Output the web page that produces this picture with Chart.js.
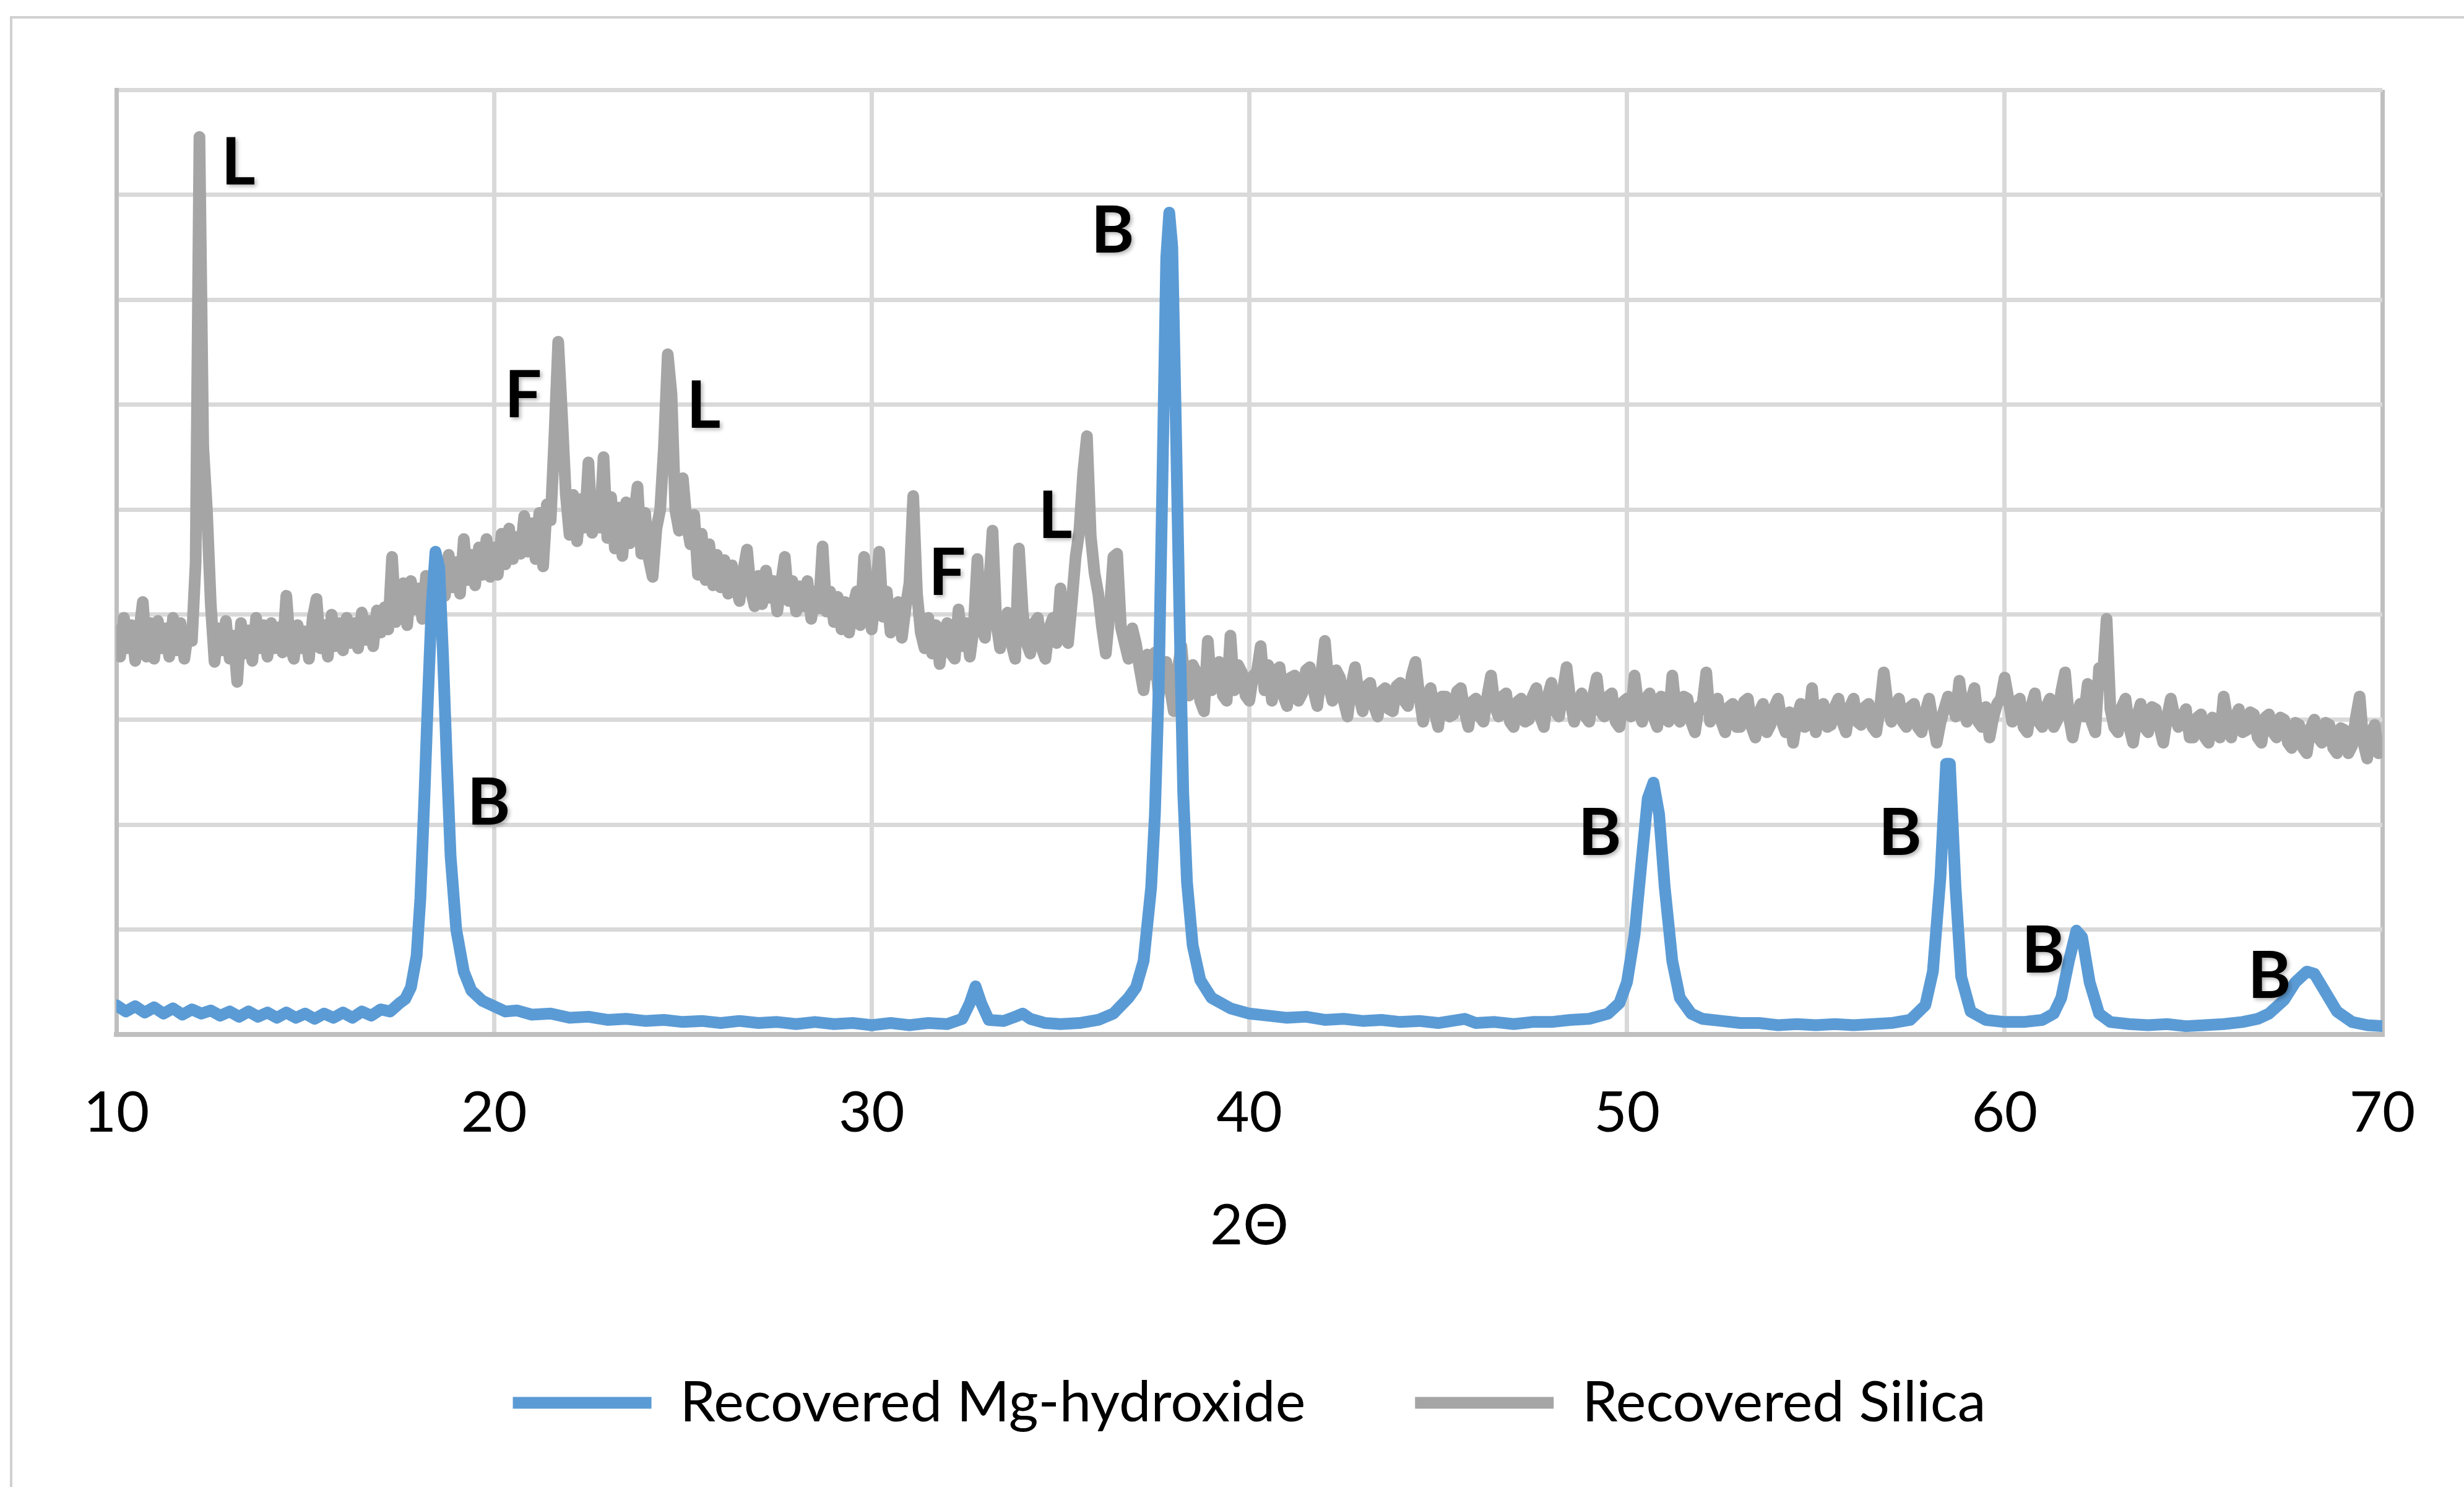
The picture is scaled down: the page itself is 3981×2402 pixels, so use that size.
<!DOCTYPE html>
<html>
<head>
<meta charset="utf-8">
<title>XRD</title>
<script src="https://cdn.jsdelivr.net/npm/chart.js@4.4.1/dist/chart.umd.min.js"></script>
<style>
  html, body { margin: 0; padding: 0; background: #fff; }
  canvas { display: block; }
</style>
</head>
<body>
<canvas id="grafico" width="3981" height="2402"></canvas>
<script>
const seriesNames = ['Recovered Mg-hydroxide', 'Recovered Silica'];

const mgHydroxide = [
  [10,0.28],[10.25,0.22],[10.5,0.27],[10.75,0.21],[11,0.26],[11.25,0.2],[11.5,0.25],[11.75,0.19],[12,0.24],[12.25,0.2],
  [12.5,0.23],[12.75,0.18],[13,0.22],[13.25,0.17],[13.5,0.22],[13.75,0.17],[14,0.21],[14.25,0.16],[14.5,0.21],[14.75,0.16],
  [15,0.2],[15.25,0.15],[15.5,0.2],[15.75,0.16],[16,0.21],[16.25,0.16],[16.5,0.22],[16.75,0.18],[17,0.24],[17.25,0.22],
  [17.5,0.3],[17.65,0.34],[17.8,0.45],[17.95,0.75],[18.05,1.3],[18.15,2.2],[18.25,3.2],[18.35,4.1],[18.45,4.6],[18.55,4.45],
  [18.65,3.6],[18.75,2.6],[18.85,1.7],[19,1.0],[19.2,0.6],[19.4,0.42],[19.7,0.32],[20,0.27],[20.3,0.22],[20.6,0.23],
  [21,0.19],[21.5,0.2],[22,0.16],[22.5,0.17],[23,0.14],[23.5,0.15],[24,0.13],[24.5,0.14],[25,0.12],[25.5,0.13],
  [26,0.11],[26.5,0.13],[27,0.11],[27.5,0.12],[28,0.1],[28.5,0.12],[29,0.1],[29.5,0.11],[30,0.09],[30.5,0.11],
  [31,0.09],[31.5,0.11],[32,0.1],[32.4,0.15],[32.6,0.3],[32.75,0.46],[32.9,0.3],[33.1,0.14],[33.5,0.13],[33.8,0.17],
  [34,0.2],[34.2,0.15],[34.6,0.11],[35,0.1],[35.5,0.11],[36,0.14],[36.4,0.2],[36.8,0.35],[37,0.45],[37.2,0.7],
  [37.4,1.4],[37.5,2.1],[37.6,3.3],[37.7,5.3],[37.8,7.4],[37.88,7.83],[37.96,7.5],[38.05,5.9],[38.15,4.0],[38.25,2.3],
  [38.35,1.45],[38.5,0.85],[38.7,0.52],[39,0.35],[39.5,0.25],[40,0.2],[40.5,0.18],[41,0.16],[41.5,0.17],[42,0.14],
  [42.5,0.15],[43,0.13],[43.5,0.14],[44,0.12],[44.5,0.13],[45,0.11],[45.7,0.15],[46,0.11],[46.5,0.12],[47,0.1],
  [47.5,0.12],[48,0.12],[48.5,0.14],[49,0.15],[49.5,0.2],[49.8,0.3],[50,0.5],[50.2,0.95],[50.4,1.7],[50.55,2.25],
  [50.7,2.4],[50.85,2.1],[51,1.4],[51.2,0.7],[51.4,0.35],[51.7,0.2],[52,0.15],[52.5,0.13],[53,0.11],[53.5,0.11],
  [54,0.09],[54.5,0.1],[55,0.09],[55.5,0.1],[56,0.09],[56.5,0.1],[57,0.11],[57.5,0.14],[57.9,0.28],[58.1,0.6],
  [58.3,1.5],[58.45,2.58],[58.55,2.58],[58.7,1.4],[58.85,0.55],[59.1,0.22],[59.5,0.14],[60,0.12],[60.5,0.12],[61,0.14],
  [61.3,0.2],[61.5,0.35],[61.7,0.7],[61.9,0.99],[62.05,0.93],[62.25,0.5],[62.5,0.2],[62.8,0.12],[63.3,0.1],[63.8,0.09],
  [64.3,0.1],[64.8,0.08],[65.3,0.09],[65.8,0.1],[66.3,0.12],[66.7,0.15],[67,0.2],[67.4,0.33],[67.7,0.5],[68,0.6],
  [68.2,0.58],[68.5,0.4],[68.8,0.22],[69.2,0.12],[69.6,0.09],[70,0.08]
];

const silicaX = [
  10,10.1,10.2,10.3,10.4,10.5,10.6,10.7,10.8,10.9,
  11,11.1,11.2,11.3,11.4,11.5,11.6,11.7,11.8,11.9,
  12,12.1,12.2,12.3,12.4,12.5,12.6,12.7,12.8,12.9,
  13,13.1,13.2,13.3,13.4,13.5,13.6,13.7,13.8,13.9,
  14,14.1,14.2,14.3,14.4,14.5,14.6,14.7,14.8,14.9,
  15,15.1,15.2,15.3,15.4,15.5,15.6,15.7,15.8,15.9,
  16,16.1,16.2,16.3,16.4,16.5,16.6,16.7,16.8,16.9,
  17,17.1,17.2,17.3,17.4,17.5,17.6,17.7,17.8,17.9,
  18,18.1,18.2,18.3,18.4,18.5,18.6,18.7,18.8,18.9,
  19,19.1,19.2,19.3,19.4,19.5,19.6,19.7,19.8,19.9,
  20,20.1,20.2,20.3,20.4,20.5,20.6,20.7,20.8,20.9,
  21,21.1,21.2,21.3,21.4,21.5,21.6,21.7,21.8,21.9,
  22,22.1,22.2,22.3,22.4,22.5,22.6,22.7,22.8,22.9,
  23,23.1,23.2,23.3,23.4,23.5,23.6,23.7,23.8,23.9,
  24,24.1,24.2,24.3,24.4,24.5,24.6,24.7,24.8,24.9,
  25,25.1,25.2,25.3,25.4,25.5,25.6,25.7,25.8,25.9,
  26,26.1,26.2,26.3,26.4,26.5,26.6,26.7,26.8,26.9,
  27,27.1,27.2,27.3,27.4,27.5,27.6,27.7,27.8,27.9,
  28,28.1,28.2,28.3,28.4,28.5,28.6,28.7,28.8,28.9,
  29,29.1,29.2,29.3,29.4,29.5,29.6,29.7,29.8,29.9,
  30,30.1,30.2,30.3,30.4,30.5,30.6,30.7,30.8,30.9,
  31,31.1,31.2,31.3,31.4,31.5,31.6,31.7,31.8,31.9,
  32,32.1,32.2,32.3,32.4,32.5,32.6,32.7,32.8,32.9,
  33,33.1,33.2,33.3,33.4,33.5,33.6,33.7,33.8,33.9,
  34,34.1,34.2,34.3,34.4,34.5,34.6,34.7,34.8,34.9,
  35,35.1,35.2,35.3,35.4,35.5,35.6,35.7,35.8,35.9,
  36,36.1,36.2,36.3,36.4,36.5,36.6,36.7,36.8,36.9,
  37,37.1,37.2,37.3,37.4,37.5,37.6,37.7,37.8,37.9,
  38,38.1,38.2,38.3,38.4,38.5,38.6,38.7,38.8,38.9,
  39,39.1,39.2,39.3,39.4,39.5,39.6,39.7,39.8,39.9,
  40,40.1,40.2,40.3,40.4,40.5,40.6,40.7,40.8,40.9,
  41,41.1,41.2,41.3,41.4,41.5,41.6,41.7,41.8,41.9,
  42,42.1,42.2,42.3,42.4,42.5,42.6,42.7,42.8,42.9,
  43,43.1,43.2,43.3,43.4,43.5,43.6,43.7,43.8,43.9,
  44,44.1,44.2,44.3,44.4,44.5,44.6,44.7,44.8,44.9,
  45,45.1,45.2,45.3,45.4,45.5,45.6,45.7,45.8,45.9,
  46,46.1,46.2,46.3,46.4,46.5,46.6,46.7,46.8,46.9,
  47,47.1,47.2,47.3,47.4,47.5,47.6,47.7,47.8,47.9,
  48,48.1,48.2,48.3,48.4,48.5,48.6,48.7,48.8,48.9,
  49,49.1,49.2,49.3,49.4,49.5,49.6,49.7,49.8,49.9,
  50,50.1,50.2,50.3,50.4,50.5,50.6,50.7,50.8,50.9,
  51,51.1,51.2,51.3,51.4,51.5,51.6,51.7,51.8,51.9,
  52,52.1,52.2,52.3,52.4,52.5,52.6,52.7,52.8,52.9,
  53,53.1,53.2,53.3,53.4,53.5,53.6,53.7,53.8,53.9,
  54,54.1,54.2,54.3,54.4,54.5,54.6,54.7,54.8,54.9,
  55,55.1,55.2,55.3,55.4,55.5,55.6,55.7,55.8,55.9,
  56,56.1,56.2,56.3,56.4,56.5,56.6,56.7,56.8,56.9,
  57,57.1,57.2,57.3,57.4,57.5,57.6,57.7,57.8,57.9,
  58,58.1,58.2,58.3,58.4,58.5,58.6,58.7,58.8,58.9,
  59,59.1,59.2,59.3,59.4,59.5,59.6,59.7,59.8,59.9,
  60,60.1,60.2,60.3,60.4,60.5,60.6,60.7,60.8,60.9,
  61,61.1,61.2,61.3,61.4,61.5,61.6,61.7,61.8,61.9,
  62,62.1,62.2,62.3,62.4,62.5,62.6,62.7,62.8,62.9,
  63,63.1,63.2,63.3,63.4,63.5,63.6,63.7,63.8,63.9,
  64,64.1,64.2,64.3,64.4,64.5,64.6,64.7,64.8,64.9,
  65,65.1,65.2,65.3,65.4,65.5,65.6,65.7,65.8,65.9,
  66,66.1,66.2,66.3,66.4,66.5,66.6,66.7,66.8,66.9,
  67,67.1,67.2,67.3,67.4,67.5,67.6,67.7,67.8,67.9,
  68,68.1,68.2,68.3,68.4,68.5,68.6,68.7,68.8,68.9,
  69,69.1,69.2,69.3,69.4,69.5,69.6,69.7,69.8,69.9,
  70
];

const silicaY = [
  3.85,3.6,3.97,3.68,3.9,3.56,3.82,4.12,3.6,3.92,
  3.58,3.94,3.68,3.87,3.6,3.97,3.66,3.92,3.58,3.84,
  3.75,4.5,8.55,5.6,4.98,4.1,3.55,3.87,3.66,3.94,
  3.58,3.8,3.36,3.92,3.63,3.85,3.56,3.97,3.68,3.9,
  3.6,3.92,3.68,3.88,3.64,4.18,3.7,3.58,3.9,3.68,
  3.84,3.58,3.97,4.15,3.68,3.9,3.6,4.0,3.7,3.92,
  3.66,3.97,3.73,3.92,3.68,4.02,3.76,3.94,3.7,4.04,
  3.83,4.07,3.86,4.55,3.93,4.12,4.3,3.9,4.32,4.05,
  4.25,3.96,4.37,4.08,4.32,4.03,4.47,4.18,4.57,4.26,
  4.5,4.2,4.72,4.33,4.57,4.28,4.64,4.38,4.72,4.36,
  4.64,4.38,4.77,4.48,4.82,4.53,4.74,4.58,4.94,4.6,
  4.87,4.53,4.97,4.46,5.05,4.9,5.7,6.6,5.9,5.15,
  4.76,5.14,4.7,5.1,4.83,5.45,4.78,5.02,4.83,5.5,
  4.73,5.12,4.63,5.02,4.56,5.07,4.68,4.92,5.22,4.58,
  4.97,4.53,4.36,4.82,5.0,5.6,6.48,6.1,5.0,4.8,
  5.3,4.88,4.67,4.95,4.38,4.77,4.33,4.67,4.28,4.57,
  4.26,4.52,4.2,4.47,4.28,4.13,4.42,4.62,4.23,4.08,
  4.37,4.1,4.42,4.16,4.32,4.03,4.3,4.55,4.13,4.32,
  4.03,4.27,4.08,4.32,3.96,4.22,4.06,4.65,4.03,4.22,
  3.93,4.17,3.86,4.12,3.83,4.07,4.22,3.9,4.55,4.23,
  3.86,4.17,4.6,3.98,4.22,3.83,3.94,4.12,3.78,4.07,
  4.3,5.13,4.2,3.83,3.68,3.97,3.63,3.9,3.53,3.82,
  3.92,3.63,3.58,4.05,3.7,3.92,3.6,3.87,4.53,3.88,
  3.78,4.22,4.8,3.93,3.68,3.9,4.02,3.73,3.58,4.63,
  4.02,3.73,3.63,3.92,3.97,3.68,3.58,3.87,3.97,3.73,
  4.25,3.88,3.73,4.12,4.55,4.8,5.35,5.7,4.75,4.4,
  4.2,3.88,3.63,4.02,4.55,4.58,3.88,3.73,3.58,3.87,
  3.72,3.48,3.28,3.62,3.43,3.64,3.23,3.52,3.55,3.3,
  3.08,3.47,3.7,3.33,3.23,3.52,3.45,3.18,3.08,3.75,
  3.28,3.52,3.55,3.23,3.18,3.8,3.28,3.52,3.45,3.23,
  3.18,3.42,3.45,3.7,3.28,3.52,3.18,3.47,3.5,3.23,
  3.13,3.4,3.42,3.18,3.25,3.47,3.5,3.28,3.13,3.42,
  3.75,3.33,3.18,3.47,3.4,3.18,3.03,3.32,3.5,3.23,
  3.08,3.32,3.35,3.13,3.03,3.27,3.3,3.1,3.08,3.32,
  3.35,3.18,3.13,3.42,3.55,3.23,2.98,3.22,3.3,3.08,
  2.93,3.22,3.22,3.03,3.05,3.27,3.3,3.08,2.93,3.17,
  3.2,3.03,2.98,3.22,3.42,3.13,3.03,3.22,3.25,2.98,
  2.93,3.17,3.2,2.98,3.0,3.22,3.3,3.03,2.93,3.22,
  3.35,3.08,3.03,3.27,3.5,3.18,2.98,3.17,3.25,3.03,
  2.98,3.22,3.4,3.08,3.03,3.22,3.25,2.98,2.93,3.17,
  3.2,3.03,3.42,3.13,2.98,3.2,3.25,3.03,2.93,3.22,
  3.2,2.98,3.42,3.08,2.98,3.22,3.2,2.98,2.88,3.12,
  3.15,3.45,2.98,3.17,3.2,2.98,2.88,3.12,3.15,2.93,
  2.93,3.17,3.2,2.93,2.83,3.07,3.15,2.88,2.95,3.12,
  3.2,2.98,2.88,3.07,2.78,3.02,3.15,2.93,2.95,3.3,
  2.88,3.12,3.15,2.93,2.95,3.12,3.2,2.98,2.88,3.12,
  3.2,2.98,2.95,3.12,3.15,2.93,2.88,3.12,3.45,3.15,
  2.98,3.12,3.2,2.98,2.93,3.12,3.15,2.93,2.88,3.07,
  3.2,2.98,2.78,2.97,3.1,3.22,3.2,3.03,3.37,3.1,
  2.98,3.17,3.3,2.98,2.93,3.12,2.83,3.02,3.15,3.2,
  3.4,3.2,2.98,3.17,3.2,2.93,2.88,3.12,3.25,2.98,
  2.93,3.12,3.2,2.93,3.0,3.27,3.45,3.03,2.83,3.02,
  3.15,3.03,3.34,2.98,2.88,3.49,3.4,3.96,3.1,2.93,
  2.88,3.12,3.2,2.93,2.78,3.02,3.15,2.93,2.88,3.12,
  3.1,2.93,2.78,3.02,3.2,3.03,2.93,3.02,3.1,2.83,
  2.83,3.02,3.05,2.83,2.78,3.02,3.0,2.83,3.22,3.0,
  2.83,3.02,3.1,2.88,2.9,3.07,3.05,2.83,2.78,3.02,
  3.05,2.88,2.83,3.02,3.0,2.78,2.73,2.97,2.95,2.73,
  2.68,2.92,3.0,2.83,2.78,2.97,2.95,2.73,2.68,2.92,
  2.9,2.68,2.75,3.02,3.22,2.78,2.63,2.87,2.95,2.68,
  2.7
];

// etiquetas de fases (B, F, L) en coordenadas de datos
const phaseText = ['L', 'B', 'F', 'L', 'F', 'L', 'B', 'B', 'B', 'B', 'B'];
const phaseX = [13.23, 36.38, 20.77, 25.55, 32.0, 34.86, 19.86, 49.28, 57.23, 61.02, 67.01];
const phaseY = [8.30, 7.65, 6.08, 5.98, 4.39, 4.93, 2.20, 1.91, 1.91, 0.79, 0.55];

const xTicks = [10, 20, 30, 40, 50, 60, 70];

const FONT = 'Lato, "Open Sans", sans-serif';

const marcoPlugin = {
    id: 'marco',
    beforeDraw(chart) {
        const ctx = chart.ctx;
        ctx.save();
        ctx.fillStyle = '#ffffff';
        ctx.fillRect(0, 0, chart.width, chart.height);
        ctx.strokeStyle = '#d0d0d0';
        ctx.lineWidth = 4;
        ctx.beginPath();
        ctx.moveTo(18, chart.height);
        ctx.lineTo(18, 28);
        ctx.lineTo(chart.width, 28);
        ctx.stroke();
        ctx.restore();
    }
};

const letrasPlugin = {
    id: 'letras',
    afterDatasetsDraw(chart) {
        const ctx = chart.ctx;
        const sx = chart.scales.x;
        const sy = chart.scales.y;
        ctx.save();
        ctx.font = 'bold 106px ' + FONT;
        ctx.fillStyle = '#000000';
        ctx.textAlign = 'center';
        ctx.textBaseline = 'middle';
        ctx.shadowColor = 'rgba(0,0,0,0.3)';
        ctx.shadowBlur = 6;
        ctx.shadowOffsetX = 3;
        ctx.shadowOffsetY = 3;
        phaseText.forEach((t, i) => {
            ctx.fillText(t, sx.getPixelForValue(phaseX[i]), sy.getPixelForValue(phaseY[i]));
        });
        ctx.restore();
    }
};

const ctx = document.getElementById('grafico').getContext('2d');

new Chart(ctx, {
    type: 'line',
    data: {
        datasets: [
            {
                label: seriesNames[0],
                data: mgHydroxide.map(p => ({ x: p[0], y: p[1] })),
                borderColor: '#5b9bd5',
                backgroundColor: '#5b9bd5',
                borderWidth: 19,
                borderCapStyle: 'round',
                borderJoinStyle: 'round',
                pointRadius: 0,
                tension: 0,
                fill: false,
            },
            {
                label: seriesNames[1],
                data: silicaX.map((x, i) => ({ x: x, y: silicaY[i] })),
                borderColor: '#a5a5a5',
                backgroundColor: '#a5a5a5',
                borderWidth: 19,
                borderCapStyle: 'round',
                borderJoinStyle: 'round',
                pointRadius: 0,
                tension: 0,
                fill: false,
            },
        ],
    },
    options: {
        responsive: false,
        animation: false,
        devicePixelRatio: 1,
        layout: {
            padding: { left: 188, right: 132, top: 145, bottom: 80 },
        },
        plugins: {
            legend: {
                position: 'bottom',
                labels: {
                    usePointStyle: true,
                    pointStyle: 'line',
                    pointStyleWidth: 224,
                    padding: 177,
                    color: '#000000',
                    font: { family: FONT, size: 92 },
                },
            },
            tooltip: { enabled: false },
        },
        scales: {
            x: {
                type: 'linear',
                min: 10,
                max: 70,
                afterBuildTicks: (scale) => {
                    scale.ticks = xTicks.map(v => ({ value: v }));
                },
                ticks: {
                    padding: 72,
                    maxRotation: 0,
                    color: '#000000',
                    font: { family: FONT, size: 92 },
                },
                grid: {
                    drawTicks: false,
                    lineWidth: 7,
                    color: (c) => (c.tick && c.tick.value === 70 ? '#bfbfbf' : '#d9d9d9'),
                },
                border: { color: '#bfbfbf', width: 8 },
                title: {
                    display: true,
                    text: '2Θ',
                    color: '#000000',
                    font: { family: FONT, size: 92 },
                    padding: { top: 0, bottom: 7 },
                },
            },
            y: {
                min: 0,
                max: 9,
                ticks: { display: false, stepSize: 1 },
                grid: {
                    drawTicks: false,
                    lineWidth: 7,
                    color: '#d9d9d9',
                },
                border: { color: '#bfbfbf', width: 7 },
            },
        },
    },
    plugins: [marcoPlugin, letrasPlugin],
});
</script>
</body>
</html>
